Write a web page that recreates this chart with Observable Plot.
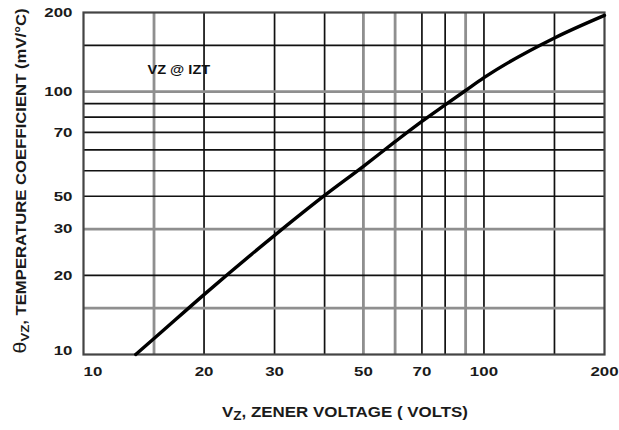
<!DOCTYPE html>
<html>
<head>
<meta charset="utf-8">
<script src="https://cdn.jsdelivr.net/npm/d3@7"></script>
<script src="https://cdn.jsdelivr.net/npm/@observablehq/plot@0.6"></script>
<style>
  html, body { margin: 0; padding: 0; background: #fff; }
  #chart svg { display: block; }
</style>
</head>
<body>
<div id="chart"></div>
<script>
// ---- data ----
const zenerVoltage = [13.5, 15, 20, 30, 40, 50, 60, 70, 80, 90, 100, 150, 200];
const tempCoeff    = [10, 11.5, 16.9, 28.4, 40.3, 52, 64.5, 77, 89, 101, 113, 160, 195];

const gridX = [15, 20, 30, 40, 50, 60, 70, 80, 90, 100, 150];
const gridY = [15, 20, 30, 40, 50, 60, 70, 80, 90, 100, 150];

const xTickValues = [10, 20, 30, 50, 70, 100, 200];
const xTickLabels = ["10", "20", "30", "50", "70", "100", "200"];
// as printed in the original datasheet (the "50" sits on the 40 line)
const yTickValues = [10, 20, 30, 40, 70, 100, 200];
const yTickLabels = ["10", "20", "30", "50", "70", "100", "200"];

const annotation = [{x: 17.3, y: 121, text: "VZ @ IZT"}];

// ---- build ----
const curve = zenerVoltage.map((v, i) => ({v, t: tempCoeff[i]}));
const xTicks = xTickValues.map((v, i) => ({v, label: xTickLabels[i]}));
const yTicks = yTickValues.map((v, i) => ({v, label: yTickLabels[i]}));

const grayX = new Set([15, 50, 60, 90]);
const grayY = new Set([100, 30, 15]);

const font = "Liberation Sans, Arial, Helvetica, sans-serif";
const tickStyle = {fontSize: 13.5, fontWeight: "bold", fill: "#1a1a1a"};

const plot = Plot.plot({
  width: 619,
  height: 430,
  marginLeft: 83,
  marginRight: 15,
  marginTop: 12,
  marginBottom: 76,
  style: {fontFamily: font, background: "#fff", color: "#111"},
  x: {type: "log", domain: [10, 200], axis: null},
  y: {type: "log", domain: [10, 200], axis: null},
  marks: [
    Plot.ruleX(gridX, {x: d => d, stroke: d => grayX.has(d) ? "#8f8f8f" : "#111",
      strokeWidth: d => grayX.has(d) ? 2.8 : 1.7}),
    Plot.ruleY(gridY, {y: d => d, stroke: d => grayY.has(d) ? "#8f8f8f" : "#111",
      strokeWidth: d => grayY.has(d) ? 2.8 : 1.7}),
    Plot.frame({stroke: "#444", strokeWidth: 2.2}),
    Plot.line(curve, {x: "v", y: "t", curve: "monotone-x", stroke: "#000", strokeWidth: 3.4}),
    Plot.text(xTicks, {filter: d => d.v === 10, x: "v", text: "label", frameAnchor: "bottom", dy: 21,
      textAnchor: "start", ...tickStyle}),
    Plot.text(xTicks, {filter: d => d.v !== 10, x: "v", text: "label", frameAnchor: "bottom", dy: 21,
      textAnchor: "middle", ...tickStyle}),
    Plot.text(yTicks, {filter: d => d.v === 10, y: "v", text: "label", frameAnchor: "left", dx: -11, dy: -4,
      textAnchor: "end", ...tickStyle}),
    Plot.text(yTicks, {filter: d => d.v !== 10, y: "v", text: "label", frameAnchor: "left", dx: -11,
      textAnchor: "end", ...tickStyle}),
    Plot.text(annotation, {x: "x", y: "y", text: "text", fontSize: 13, fontWeight: "bold", fill: "#111"})
  ]
});

document.getElementById("chart").appendChild(plot);

// widen the labels a little, like the scanned original
d3.select(plot).selectAll("g[aria-label='text'] text").each(function () {
  const len = this.getComputedTextLength();
  const isAnno = this.textContent.includes("@");
  d3.select(this).attr("textLength", len * (isAnno ? 1.12 : 1.25)).attr("lengthAdjust", "spacingAndGlyphs");
});

// axis titles with subscripts
const svg = d3.select(plot);
const xt = svg.append("text")
  .attr("x", 345).attr("y", 417)
  .attr("text-anchor", "middle")
  .attr("textLength", 246).attr("lengthAdjust", "spacingAndGlyphs")
  .attr("font-family", font).attr("font-size", 15).attr("font-weight", "bold").attr("fill", "#1a1a1a");
xt.append("tspan").text("V");
xt.append("tspan").attr("dy", 3).attr("font-size", 12).text("Z");
xt.append("tspan").attr("dy", -3).text(", ZENER VOLTAGE ( VOLTS)");

const yt = svg.append("text")
  .attr("transform", "translate(26,181) rotate(-90)")
  .attr("text-anchor", "middle")
  .attr("textLength", 345).attr("lengthAdjust", "spacingAndGlyphs")
  .attr("font-family", font).attr("font-size", 14).attr("font-weight", "bold").attr("fill", "#1a1a1a");
yt.append("tspan").attr("font-size", 18).attr("font-weight", "normal").text("θ");
yt.append("tspan").attr("dy", 3).attr("font-size", 11).text("VZ");
yt.append("tspan").attr("dy", -3).text(", TEMPERATURE COEFFICIENT (mV/°C)");
</script>
</body>
</html>
